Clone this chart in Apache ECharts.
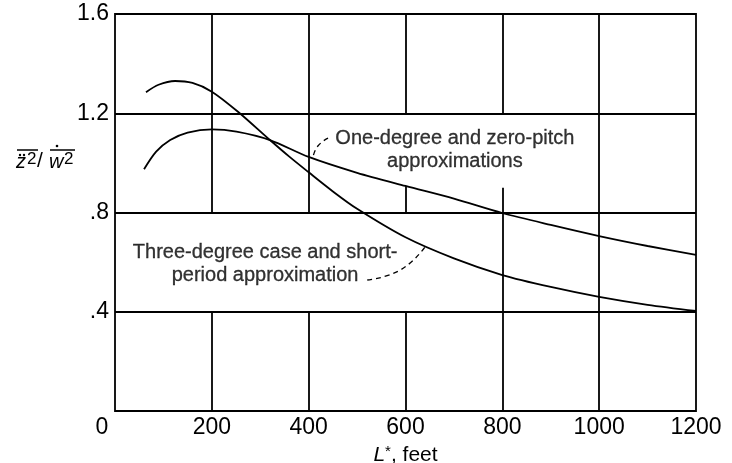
<!DOCTYPE html>
<html>
<head>
<meta charset="utf-8">
<script src="https://cdn.jsdelivr.net/npm/echarts@6/dist/echarts.min.js"></script>
<style>
  html, body { margin: 0; padding: 0; background: #fff; }
  #chart { width: 732px; height: 463px; }
</style>
</head>
<body>
<div id="chart"></div>
<script>
// tick labels
var xTicks = [0, 200, 400, 600, 800, 1000, 1200];
var yTicks = [0, 0.4, 0.8, 1.2, 1.6];
var yTickLabels = ['', '.4', '.8', '1.2', '1.6'];

// three-degree case and short-period approximation
var threeDegree = [[64, 1.285], [90, 1.315], [124, 1.33], [160, 1.322], [200, 1.287], [254, 1.206],
  [320, 1.092], [360, 1.025], [400, 0.962], [450, 0.885], [500, 0.815], [600, 0.70],
  [700, 0.615], [800, 0.548], [900, 0.50], [1000, 0.46], [1100, 0.428], [1200, 0.403]];
// one-degree and zero-pitch approximations
var oneDegree = [[60, 0.974], [85, 1.045], [114, 1.092], [150, 1.122], [200, 1.135], [251, 1.126],
  [320, 1.092], [400, 1.024], [500, 0.96], [600, 0.907], [700, 0.856], [800, 0.798],
  [900, 0.75], [1000, 0.705], [1100, 0.665], [1200, 0.629]];

// leader lines for the notes
var leaderOne = [[440, 1.10], [419, 1.068], [409, 1.024]];
var leaderThree = [[521, 0.528], [589, 0.568], [640, 0.66]];

// grid lines, with the gaps left for the lettering
var vGrid = [
  [200, [[0, 0.4], [0.8, 1.6]]],
  [400, [[0, 0.4], [0.8, 1.6]]],
  [600, [[0, 0.4], [0.8, 0.907], [1.2, 1.6]]],
  [800, [[0, 0.9], [1.2, 1.6]]],
  [1000, [[0, 1.6]]]
];
var hGrid = [0.4, 0.8, 1.2];

var FONT = '"Liberation Sans", Arial, sans-serif';

var gridSegs = [];
vGrid.forEach(function (g) {
  g[1].forEach(function (r) {
    gridSegs.push([{ coord: [g[0], r[0]] }, { coord: [g[0], r[1]] }]);
  });
});
hGrid.forEach(function (y) {
  gridSegs.push([{ coord: [0, y] }, { coord: [1200, y] }]);
});

function glyph(t, x, y, size, italic) {
  return { type: 'text', x: x, y: y, style: {
    text: t, fill: '#000', verticalAlign: 'bottom',
    font: (italic ? 'italic ' : '') + size + 'px ' + FONT
  } };
}

var chart = echarts.init(document.getElementById('chart'));

var ink = { stroke: '#000', lineWidth: 1.5 };

var option = {
  backgroundColor: '#fff',
  animation: false,
  grid: {
    left: 115, right: 36, top: 14, bottom: 52,
    show: true, borderColor: '#000', borderWidth: 1.8,
    outerBoundsMode: 'none'
  },
  xAxis: {
    type: 'value', min: 0, max: 1200, interval: 200,
    axisLine: { show: false }, axisTick: { show: false }, splitLine: { show: false },
    axisLabel: {
      color: '#000', fontFamily: FONT, fontSize: 23, margin: 5,
      formatter: function (v) { return v === 0 ? '{o|0}' : String(v); },
      rich: { o: { fontFamily: FONT, fontSize: 23, color: '#000', padding: [0, 26, 0, 0] } }
    },
    name: '{i|L}{s|*}{n|, feet}',
    nameLocation: 'middle', nameGap: 32,
    nameTextStyle: {
      rich: {
        i: { fontFamily: FONT, fontSize: 21, fontStyle: 'italic', color: '#000' },
        s: { fontFamily: FONT, fontSize: 15, color: '#000', verticalAlign: 'top', padding: [0, 0, 8, 0] },
        n: { fontFamily: FONT, fontSize: 21, color: '#000' }
      }
    }
  },
  yAxis: {
    type: 'value', min: 0, max: 1.6, interval: 0.4,
    axisLine: { show: false }, axisTick: { show: false }, splitLine: { show: false },
    axisLabel: {
      color: '#000', fontFamily: FONT, fontSize: 23, margin: 6,
      formatter: function (v) {
        var i = yTicks.findIndex(function (t) { return Math.abs(t - v) < 1e-6; });
        return i >= 0 ? yTickLabels[i] : '';
      }
    }
  },
  graphic: [
    // y-axis name: overlined z-double-dot squared over overlined w-dot squared
    glyph('z', 16, 172, 20, true),
    glyph('2', 27, 168, 17, false),
    glyph('/', 37, 172, 21, false),
    glyph('w', 49, 172, 20, true),
    glyph('2', 64, 168, 17, false),
    { type: 'line', shape: { x1: 17, y1: 150, x2: 38, y2: 150 }, style: ink },
    { type: 'line', shape: { x1: 50, y1: 150, x2: 75, y2: 150 }, style: ink },
    { type: 'circle', shape: { cx: 20, cy: 155, r: 1.2 }, style: { fill: '#000' } },
    { type: 'circle', shape: { cx: 24, cy: 155, r: 1.2 }, style: { fill: '#000' } },
    { type: 'circle', shape: { cx: 57, cy: 146, r: 1.3 }, style: { fill: '#000' } }
  ],
  series: [
    {
      type: 'line', data: [], silent: true,
      markLine: {
        silent: true, symbol: 'none', label: { show: false },
        lineStyle: { color: '#000', width: 1.8, type: 'solid' },
        emphasis: { disabled: true },
        data: gridSegs
      }
    },
    {
      name: 'three-degree', type: 'line', data: threeDegree, smooth: 0.3, showSymbol: false,
      lineStyle: { color: '#000', width: 1.8 }, silent: true
    },
    {
      name: 'one-degree', type: 'line', data: oneDegree, smooth: 0.3, showSymbol: false,
      lineStyle: { color: '#000', width: 1.8 }, silent: true
    },
    {
      type: 'line', data: leaderOne, smooth: true, showSymbol: false, silent: true,
      lineStyle: { color: '#000', width: 1.3, type: [5, 4] }
    },
    {
      type: 'line', data: leaderThree, smooth: true, showSymbol: false, silent: true,
      lineStyle: { color: '#000', width: 1.3, type: [5, 4] }
    },
    {
      type: 'scatter', symbolSize: 0, silent: true,
      data: [[702, 1.05], [310, 0.592]],
      label: {
        show: true, position: 'inside', color: '#000', fontFamily: FONT, fontSize: 20,
        lineHeight: 23, align: 'center', textBorderColor: '#000', textBorderWidth: 0.3,
        formatter: function (p) {
          return p.dataIndex === 0
            ? 'One-degree and zero-pitch\napproximations'
            : 'Three-degree case and short-\nperiod approximation';
        }
      }
    }
  ]
};

chart.setOption(option);
</script>
</body>
</html>
